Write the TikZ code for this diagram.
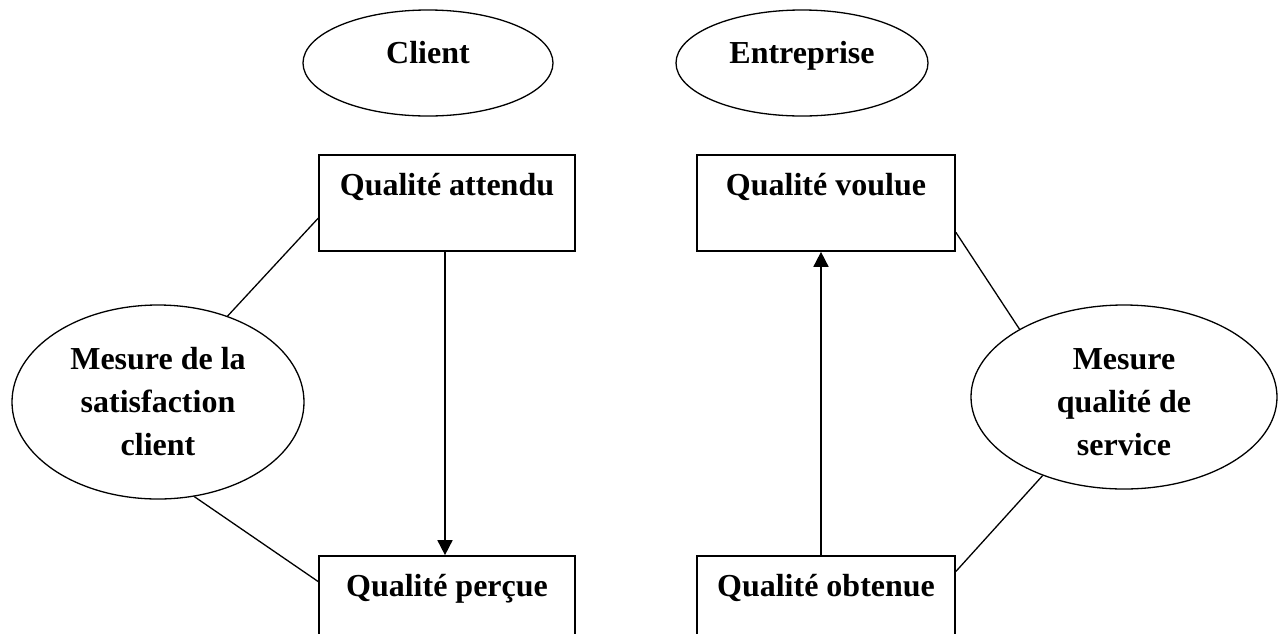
\documentclass[tikz,border=0pt]{standalone}
\usepackage{fontspec}
\setmainfont{Liberation Serif}
\usetikzlibrary{shapes.geometric,arrows.meta,calc}

\tikzset{
  lbl/.style={font=\fontsize{32}{43}\selectfont\bfseries, align=center},
  qbox/.style={lbl, draw, line width=1.7pt, inner sep=0pt,
    minimum width=256pt, text height=40pt, text depth=56pt},
  oval/.style={lbl, draw, ellipse, line width=1.3pt, inner sep=0pt},
  toptag/.style={oval, minimum width=250pt, minimum height=106pt,
    text height=22pt, text depth=22pt},
  link/.style={line width=1.3pt},
  flow/.style={line width=1.7pt, -{Triangle[length=15pt,width=15pt]}}
}

\begin{document}
\begin{tikzpicture}[x=1pt, y=-1pt]
  \clip (0,0) rectangle (1278,633);
  \fill[white] (0,0) rectangle (1278,633);

  % column headers
  \node[toptag] (cli) at (428,63) {Client};
  \node[toptag, minimum width=252pt] (ent) at (802,63) {Entreprise};

  % quality boxes
  \node[qbox] (att) at (447,203) {Qualité attendu};
  \node[qbox, minimum width=258pt] (vou) at (826,203) {Qualité voulue};
  \node[qbox] (per) at (447,604) {Qualité perçue};
  \node[qbox, minimum width=258pt] (obt) at (826,604) {Qualité obtenue};

  % measurement ovals
  \node[oval, minimum width=292pt, minimum height=194pt] (sat) at (158,402)
    {Mesure de la\\satisfaction\\client};
  \node[oval, minimum width=306pt, minimum height=184pt] (srv) at (1124,397)
    {\rule{0pt}{31pt}Mesure\\qualité de\\service};

  % flows
  \draw[flow] ([xshift=-2pt]att.south) -- ([xshift=-2pt]per.north);
  \draw[flow] ([xshift=-5pt]obt.north) -- ([xshift=-5pt]vou.south);

  % links to the measurement ovals
  \draw[link] (sat.51) -- ($(att.north west)!0.656!(att.south west)$);
  \draw[link] (sat.-69) -- ($(per.north west)!0.27!(per.south west)$);
  \draw[link] (srv.147) -- ($(vou.north east)!0.80!(vou.south east)$);
  \draw[link] (srv.224) -- ($(obt.north east)!0.167!(obt.south east)$);
\end{tikzpicture}
\end{document}
